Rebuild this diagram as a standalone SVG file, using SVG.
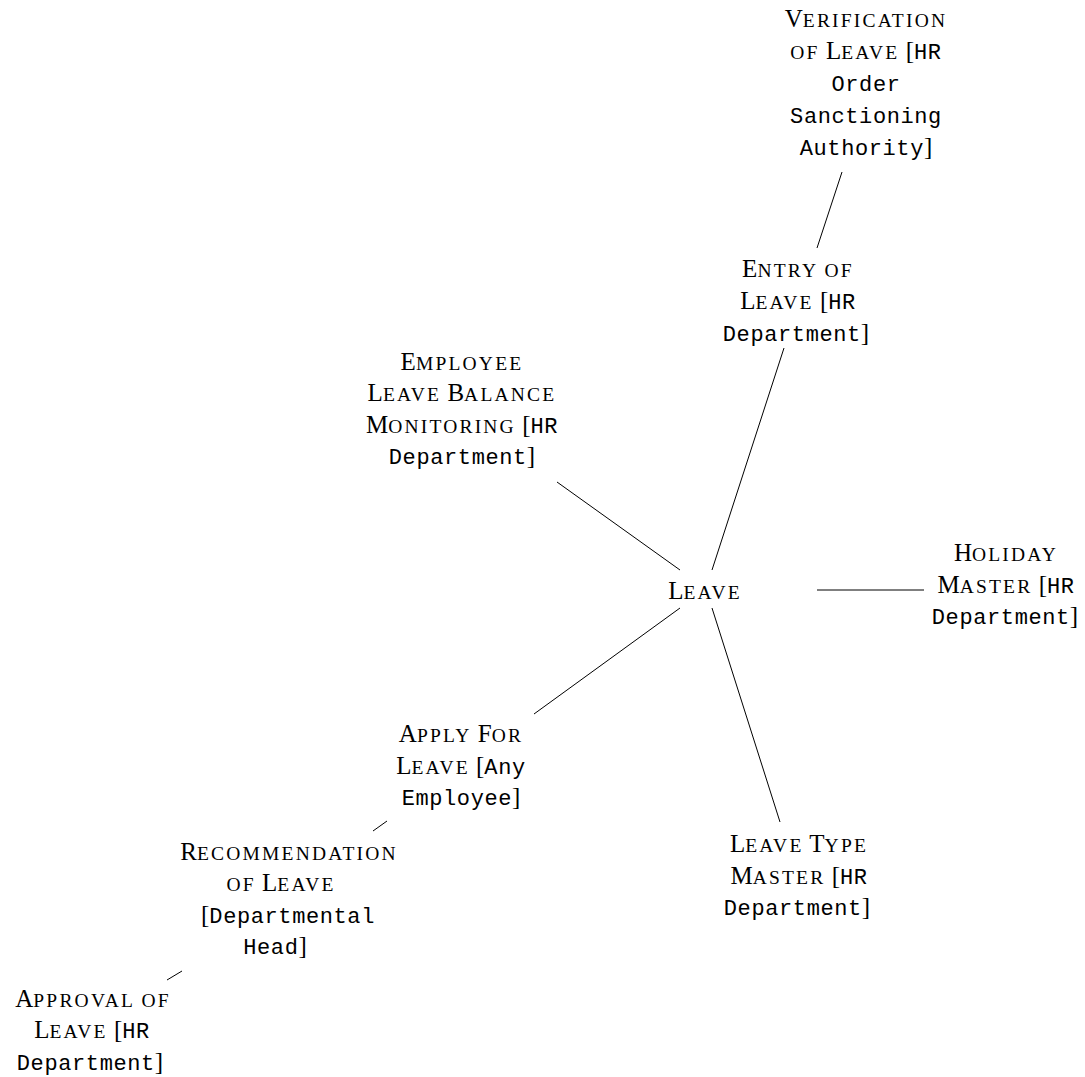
<svg xmlns="http://www.w3.org/2000/svg" width="1085" height="1077" viewBox="0 0 1085 1077">
  <style>
    .t { font-family: "Liberation Serif", "Times New Roman", serif; font-size: 25px; text-anchor: middle; fill: #000; }
    .s { font-size: 19.5px; letter-spacing: 2.2px; }
    .m { font-family: "Liberation Mono", "Courier New", monospace; font-size: 22px; letter-spacing: 0.6px; }
    .e { stroke: #000; stroke-width: 1; fill: none; }
  </style>
  <rect width="1085" height="1077" fill="#fff"/>

  <!-- connectors -->
  <g id="edges">
    <line class="e" x1="712" y1="570" x2="784" y2="348"/>
    <line class="e" x1="817" y1="248" x2="842" y2="172"/>
    <line class="e" x1="680" y1="570" x2="557" y2="482"/>
    <line class="e" x1="817" y1="590" x2="924" y2="590"/>
    <line class="e" x1="712" y1="608" x2="780" y2="822"/>
    <line class="e" x1="680" y1="608" x2="534" y2="714"/>
    <line class="e" x1="387" y1="821" x2="373" y2="831"/>
    <line class="e" x1="182" y1="971" x2="167" y2="980"/>
  </g>

  <!-- centre node -->
  <g id="leave">
    <text class="t" x="705" y="599">L<tspan class="s">EAVE</tspan></text>
  </g>

  <g id="verification">
    <text class="t" x="866" y="27">V<tspan class="s">ERIFICATION</tspan></text>
    <text class="t" x="866" y="59"><tspan class="s">OF</tspan> L<tspan class="s">EAVE</tspan> [<tspan class="m">HR</tspan></text>
    <text class="t" x="866" y="91"><tspan class="m">Order</tspan></text>
    <text class="t" x="866" y="123"><tspan class="m">Sanctioning</tspan></text>
    <text class="t" x="866" y="155"><tspan class="m">Authority</tspan>]</text>
  </g>

  <g id="entry">
    <text class="t" x="798" y="277">E<tspan class="s">NTRY OF</tspan></text>
    <text class="t" x="798" y="309">L<tspan class="s">EAVE</tspan> [<tspan class="m">HR</tspan></text>
    <text class="t" x="796" y="341"><tspan class="m">Department</tspan>]</text>
  </g>

  <g id="balance">
    <text class="t" x="462" y="370">E<tspan class="s">MPLOYEE</tspan></text>
    <text class="t" x="462" y="401">L<tspan class="s">EAVE</tspan> B<tspan class="s">ALANCE</tspan></text>
    <text class="t" x="462" y="433">M<tspan class="s">ONITORING</tspan> [<tspan class="m">HR</tspan></text>
    <text class="t" x="462" y="464"><tspan class="m">Department</tspan>]</text>
  </g>

  <g id="holiday">
    <text class="t" x="1006" y="561">H<tspan class="s">OLIDAY</tspan></text>
    <text class="t" x="1006" y="593">M<tspan class="s">ASTER</tspan> [<tspan class="m">HR</tspan></text>
    <text class="t" x="1005" y="624"><tspan class="m">Department</tspan>]</text>
  </g>

  <g id="leave-type">
    <text class="t" x="799" y="852">L<tspan class="s">EAVE</tspan> T<tspan class="s">YPE</tspan></text>
    <text class="t" x="799" y="884">M<tspan class="s">ASTER</tspan> [<tspan class="m">HR</tspan></text>
    <text class="t" x="797" y="915"><tspan class="m">Department</tspan>]</text>
  </g>

  <g id="apply">
    <text class="t" x="461" y="742">A<tspan class="s">PPLY</tspan> F<tspan class="s">OR</tspan></text>
    <text class="t" x="461" y="774">L<tspan class="s">EAVE</tspan> [<tspan class="m">Any</tspan></text>
    <text class="t" x="461" y="805"><tspan class="m">Employee</tspan>]</text>
  </g>

  <g id="recommendation">
    <text class="t" x="289" y="860">R<tspan class="s">ECOMMENDATION</tspan></text>
    <text class="t" x="281" y="891"><tspan class="s">OF</tspan> L<tspan class="s">EAVE</tspan></text>
    <text class="t" x="288" y="923">[<tspan class="m">Departmental</tspan></text>
    <text class="t" x="275" y="954"><tspan class="m">Head</tspan>]</text>
  </g>

  <g id="approval">
    <text class="t" x="93" y="1007">A<tspan class="s">PPROVAL OF</tspan></text>
    <text class="t" x="92" y="1038">L<tspan class="s">EAVE</tspan> [<tspan class="m">HR</tspan></text>
    <text class="t" x="90" y="1070"><tspan class="m">Department</tspan>]</text>
  </g>
</svg>
